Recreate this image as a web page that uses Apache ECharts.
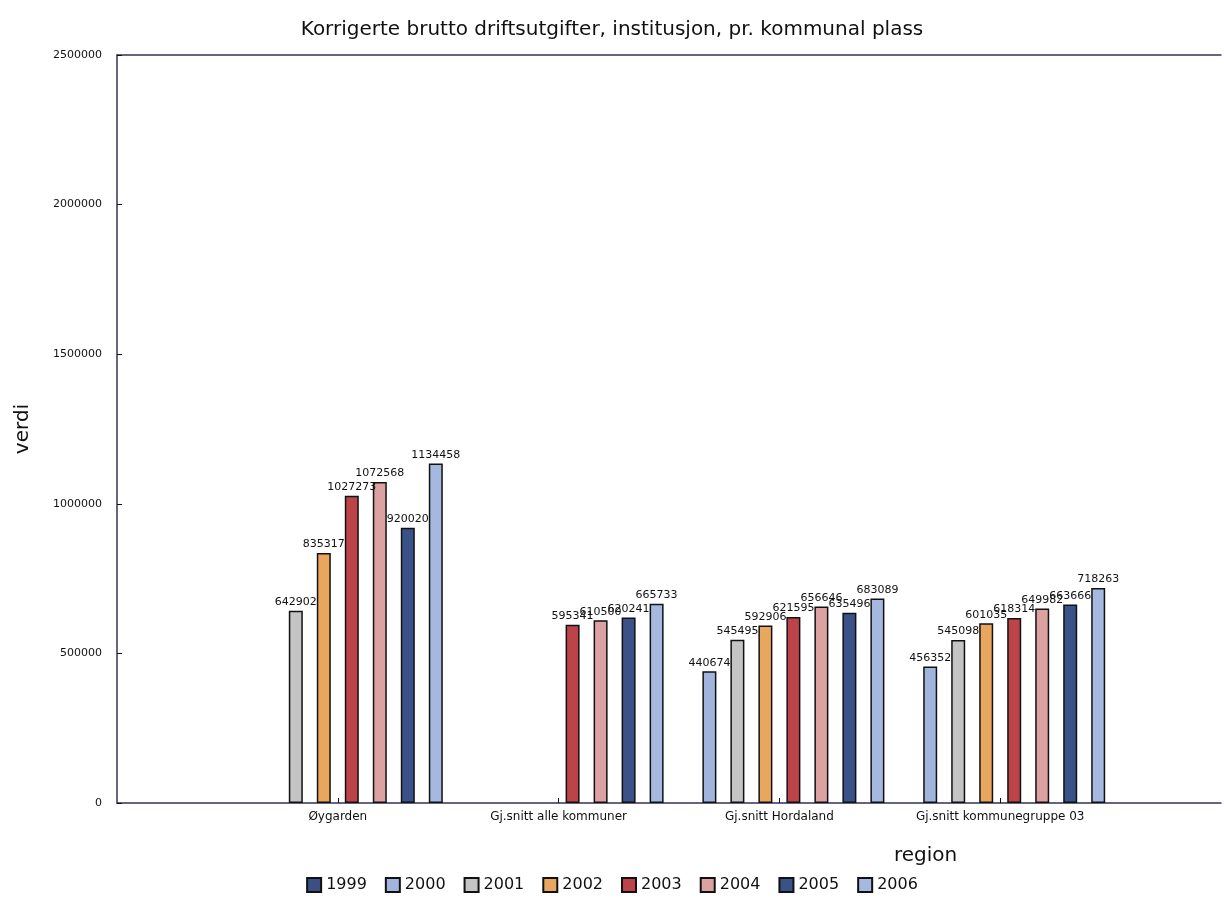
<!DOCTYPE html>
<html>
<head>
<meta charset="utf-8">
<script src="https://cdn.jsdelivr.net/npm/echarts@6/dist/echarts.min.js"></script>
<style>
  html, body { margin: 0; padding: 0; background: #fff; }
  #chart { width: 1224px; height: 902px; }
</style>
</head>
<body>
<div id="chart"></div>
<script>
// regioner (tomme ender for å plassere gruppene som i originalen)
const regions = ['', 'Øygarden', 'Gj.snitt alle kommuner', 'Gj.snitt Hordaland', 'Gj.snitt kommunegruppe 03', '']
const years   = ['1999', '2000', '2001', '2002', '2003', '2004', '2005', '2006']

// verdier per år, en verdi per region
const v1999 = [null, null, null, null, null, null]
const v2000 = [null, null, null, 440674, 456352, null]
const v2001 = [null, 642902, null, 545495, 545098, null]
const v2002 = [null, 835317, null, 592906, 601035, null]
const v2003 = [null, 1027273, 595341, 621595, 618314, null]
const v2004 = [null, 1072568, 610500, 656646, 649982, null]
const v2005 = [null, 920020, 620241, 635496, 663666, null]
const v2006 = [null, 1134458, 665733, 683089, 718263, null]
const values = [v1999, v2000, v2001, v2002, v2003, v2004, v2005, v2006]

const colors = ['#3a5084', '#a0b4dc', '#c4c4c4', '#e8a65e', '#bc4448', '#dca2a2', '#3a5288', '#a4b8e0']

const chart = echarts.init(document.getElementById('chart'))
const font = 'DejaVu Sans, sans-serif'

chart.setOption({
  animation: false,
  textStyle: { fontFamily: font },
  title: {
    text: 'Korrigerte brutto driftsutgifter, institusjon, pr. kommunal plass',
    left: 'center', top: 15,
    textStyle: { fontSize: 20, fontWeight: 'normal', color: '#111', fontFamily: font },
  },
  legend: {
    bottom: 4, left: 'center',
    icon: 'rect',
    itemWidth: 14, itemHeight: 14, itemGap: 18,
    textStyle: { fontSize: 16, color: '#111', fontFamily: font },
    data: years,
  },
  grid: { left: 117, right: 0, top: 55, bottom: 99 },
  graphic: [{
    type: 'text', left: 894, top: 846,
    style: { text: 'region', fontSize: 20, fill: '#111', fontFamily: font },
  }],
  xAxis: [{
    type: 'category',
    data: regions,
    boundaryGap: false,
    axisLine: { lineStyle: { color: '#33335a', width: 1.5 } },
    axisTick: { inside: true, length: 5, lineStyle: { color: '#111' },
                interval: (i, v) => v !== '' },
    axisLabel: { fontSize: 12, color: '#111', margin: 8, interval: 0 },
  }, {
    type: 'category',
    data: regions,
    position: 'top',
    boundaryGap: false,
    axisLine: { lineStyle: { color: '#33335a', width: 1.5 } },
    axisTick: { show: false },
    axisLabel: { show: false },
  }],
  yAxis: {
    type: 'value',
    min: 0, max: 2500000, interval: 500000,
    name: 'verdi',
    nameLocation: 'middle',
    nameGap: 84,
    nameTextStyle: { fontSize: 20, color: '#111', fontFamily: font },
    axisLine: { show: true, lineStyle: { color: '#33335a', width: 1.5 } },
    axisTick: { show: true, inside: true, length: 5, lineStyle: { color: '#111' } },
    axisLabel: { fontSize: 11, color: '#111', margin: 15, formatter: v => String(v) },
    splitLine: { show: false },
  },
  series: years.map((y, i) => ({
    name: y,
    type: 'bar',
    data: values[i],
    barWidth: 14,
    barGap: '100%',
    itemStyle: { color: colors[i], borderColor: '#111', borderWidth: 1.5 },
    label: { show: true, position: 'top', fontSize: 11, color: '#111', distance: 3 },
  })),
})
</script>
</body>
</html>
